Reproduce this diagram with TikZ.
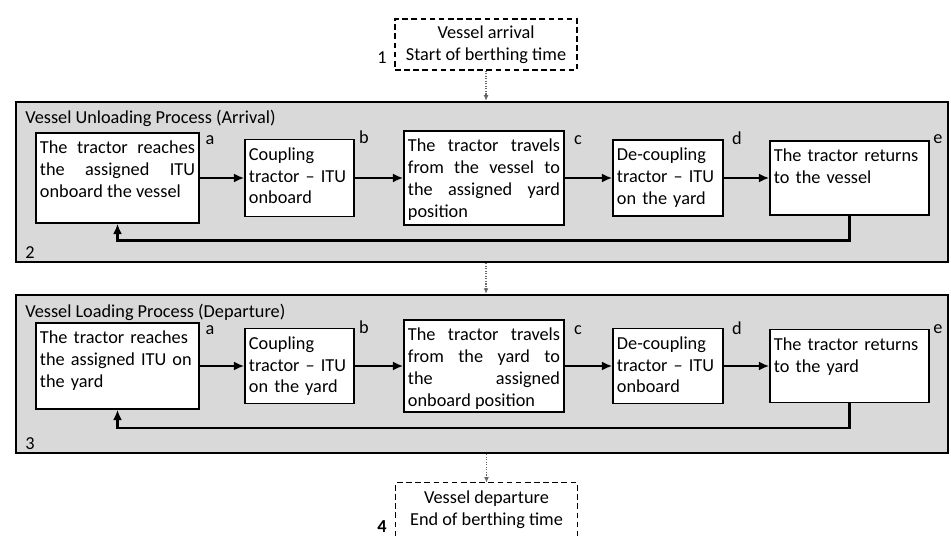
\documentclass[tikz,border=0pt]{standalone}
\usepackage{fontspec}
\setmainfont{Carlito}
\usetikzlibrary{arrows.meta}

\begin{document}
\begin{tikzpicture}[
    x=0.025cm, y=-0.025cm,
    font=\fontsize{13}{15.5}\selectfont,
    panel/.style={rectangle, draw, line width=1.6pt, fill=black!15, minimum width=23.3cm},
    title/.style={anchor=west, inner sep=0pt},
    stepbox/.style={rectangle, draw, line width=0.9pt, fill=white, align=left, inner xsep=0.1cm, inner ysep=0.1cm, text height=0.42cm},
    event/.style={rectangle, align=center, inner sep=0pt},
    dashbox/.style={dash pattern=on 4pt off 2.5pt, line width=0.9pt},
    tag/.style={inner sep=0pt},
    flow/.style={-{Latex[length=2.6mm,width=2.2mm]}, line width=1.8pt},
    link/.style={-{Latex[length=1.4mm,width=1.2mm]}, densely dotted, black!60, line width=0.8pt}
]
\useasboundingbox (0,0) rectangle (951,536);

\node[panel, minimum height=4cm] (unload) at (482,182) {};
\node[panel, minimum height=3.95cm] (load) at (482,374) {};

\node[title] (unloadtitle) at (25,118) {Vessel Unloading Process (Arrival)};
\node[title] (loadtitle) at (25,312) {Vessel Loading Process (Departure)};

\node[event, draw, dashbox, minimum width=4.55cm, minimum height=1.275cm] (arrival) at (486,44.5) {Vessel arrival\\Start of berthing time};
\node[event, minimum width=4.525cm, minimum height=1.325cm] (departure) at (486.5,509.5) {Vessel departure\\End of berthing time};
\draw[dashbox] (departure.south west) |- (departure.north) -| (departure.south east);

\node[tag] (n1) at (382,58) {1};
\node[tag] (n2) at (30,253) {2};
\node[tag] (n3) at (30,444) {3};
\node[tag] (n4) at (382,527) {\bfseries 4};

\node[stepbox, text width=3.875cm, text depth=1.63cm, align=justify] (a1) at (117.5,178) {The tractor reaches\linebreak the assigned ITU\linebreak onboard~the~vessel};
\node[stepbox, text width=2.525cm, text depth=1.305cm] (b1) at (299.5,178) {Coupling\\tractor~--~ITU\\onboard};
\node[stepbox, text width=3.8cm, text depth=1.73cm, align=justify] (c1) at (484,178) {The tractor travels\linebreak from the vessel to\linebreak the assigned yard\linebreak position};
\node[stepbox, text width=2.55cm, text depth=1.28cm] (d1) at (668,178) {De-coupling\\tractor~--~ITU\\on the yard};
\node[stepbox, text width=3.775cm, text depth=1.23cm] (e1) at (849.5,178) {The tractor returns\\to the vessel};

\node[stepbox, text width=3.875cm, text depth=1.53cm] (a2) at (117.5,366) {The tractor reaches\\the~assigned~ITU~on\\the yard};
\node[stepbox, text width=2.525cm, text depth=1.255cm] (b2) at (299.5,366) {Coupling\\tractor~--~ITU\\on the yard};
\node[stepbox, text width=3.8cm, text depth=1.68cm, align=justify] (c2) at (484,366) {The tractor travels\linebreak from the yard to\linebreak the assigned\linebreak onboard~position};
\node[stepbox, text width=2.55cm, text depth=1.255cm] (d2) at (668,366) {De-coupling\\tractor~--~ITU\\onboard};
\node[stepbox, text width=3.775cm, text depth=1.205cm] (e2) at (849.5,366) {The tractor returns\\to the yard};

\node[tag] (la1) at (210,140) {a};
\node[tag] (lb1) at (364,137) {b};
\node[tag] (lc1) at (578,140) {c};
\node[tag] (ld1) at (737,138) {d};
\node[tag] (le1) at (938,139) {e};
\node[tag] (la2) at (210,330) {a};
\node[tag] (lb2) at (364,327) {b};
\node[tag] (lc2) at (578,330) {c};
\node[tag] (ld2) at (737,328) {d};
\node[tag] (le2) at (938,329) {e};

\draw[flow] (a1) -- (b1);
\draw[flow] (b1) -- (c1);
\draw[flow] (c1) -- (d1);
\draw[flow] (d1) -- (e1);
\draw[flow] (e1.south) -- ++(0,25) -| (a1.south);

\draw[flow] (a2) -- (b2);
\draw[flow] (b2) -- (c2);
\draw[flow] (c2) -- (d2);
\draw[flow] (d2) -- (e2);
\draw[flow] (e2.south) -- ++(0,25) -| (a2.south);

\draw[link] (arrival.south) -- (arrival.south |- unload.north);
\draw[link] (unload.south -| arrival.south) -- (load.north -| arrival.south);
\draw[link] (load.south -| departure.north) -- (departure.north);

\end{tikzpicture}
\end{document}
